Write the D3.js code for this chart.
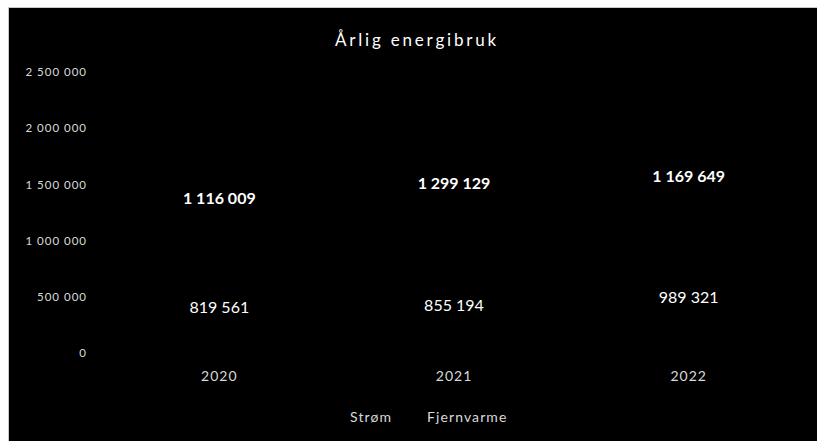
<!DOCTYPE html>
<html>
<head>
<meta charset="utf-8">
<script src="https://cdn.jsdelivr.net/npm/d3@7/dist/d3.min.js"></script>
<style>
  html, body { margin: 0; padding: 0; background: #ffffff; }
  svg { display: block; }
  text { font-family: Lato, "Open Sans", sans-serif; }
</style>
</head>
<body>
<svg id="chart" width="817" height="441"></svg>
<script>
const title = "Årlig energibruk";
const categories = ["2020", "2021", "2022"];
const seriesNames = ["Strøm", "Fjernvarme"];
const stromValues = [819561, 855194, 989321];
const fjernvarmeValues = [1116009, 1299129, 1169649];
const yTicks = [0, 500000, 1000000, 1500000, 2000000, 2500000];

const W = 817, H = 441;
const svg = d3.select("#chart");

// frame
svg.append("rect").attr("x", 8.5).attr("y", 7.5).attr("width", W).attr("height", H)
  .attr("fill", "#000").attr("stroke", "#c8c8c8").attr("stroke-width", 1);

const plot = { left: 102, right: 806, top: 72, bottom: 353 };

const x = d3.scaleBand().domain(categories).range([plot.left, plot.right]).paddingInner(0.5).paddingOuter(0.25);
const y = d3.scaleLinear().domain([0, 2500000]).range([plot.bottom, plot.top]);

const nf = d3.formatLocale({ decimal: ",", thousands: " ", grouping: [3], currency: ["", " kr"] }).format(",d");

// title
svg.append("text").attr("x", 417).attr("y", 46).attr("text-anchor", "middle")
  .attr("fill", "#fff").attr("font-size", 17).attr("letter-spacing", 2.8).text(title);

// y axis (labels only)
const yAxis = svg.append("g").attr("transform", `translate(${plot.left},0)`)
  .call(d3.axisLeft(y).tickValues(yTicks).tickFormat(nf).tickSize(0).tickPadding(15));
yAxis.select(".domain").remove();
yAxis.selectAll("text").attr("fill", "#d9d9d9").attr("font-size", 11.5)
  .attr("letter-spacing", 1).style("font-family", "Lato, sans-serif");

// stacked data
const rows = categories.map((c, i) => ({ cat: c, "Strøm": stromValues[i], "Fjernvarme": fjernvarmeValues[i] }));
const stacked = d3.stack().keys(seriesNames)(rows);
const colors = { "Strøm": "#000000", "Fjernvarme": "#000000" };

const layers = svg.append("g").selectAll("g").data(stacked).join("g").attr("fill", d => colors[d.key]);
layers.selectAll("rect").data(d => d).join("rect")
  .attr("x", d => x(d.data.cat)).attr("width", x.bandwidth())
  .attr("y", d => y(d[1])).attr("height", d => y(d[0]) - y(d[1]));

// labels
stacked.forEach(layer => {
  svg.append("g").selectAll("text").data(layer).join("text")
    .attr("x", d => x(d.data.cat) + x.bandwidth() / 2)
    .attr("y", d => y((d[0] + d[1]) / 2))
    .attr("dy", "0.35em")
    .attr("text-anchor", "middle")
    .attr("fill", "#fff")
    .attr("font-size", 16)
    .attr("font-weight", layer.key === "Fjernvarme" ? "bold" : "normal")
    .text(d => nf(d[1] - d[0]));
});

// x axis labels
const xAxis = svg.append("g").attr("transform", `translate(0,${plot.bottom})`)
  .call(d3.axisBottom(x).tickSize(0).tickPadding(18));
xAxis.select(".domain").remove();
xAxis.selectAll("text").attr("fill", "#d9d9d9").attr("font-size", 14)
  .attr("letter-spacing", 1).style("font-family", "Lato, sans-serif");

// legend
const legendItems = [{ name: "Strøm", x: 350 }, { name: "Fjernvarme", x: 427 }];
const lg = svg.append("g");
legendItems.forEach(it => {
  lg.append("rect").attr("x", it.x - 12).attr("y", 411).attr("width", 7).attr("height", 7).attr("fill", colors[it.name]);
  lg.append("text").attr("x", it.x).attr("y", 417).attr("dy", "0.35em")
    .attr("fill", "#d9d9d9").attr("font-size", 14).attr("letter-spacing", 1.1).text(it.name);
});
</script>
</body>
</html>
